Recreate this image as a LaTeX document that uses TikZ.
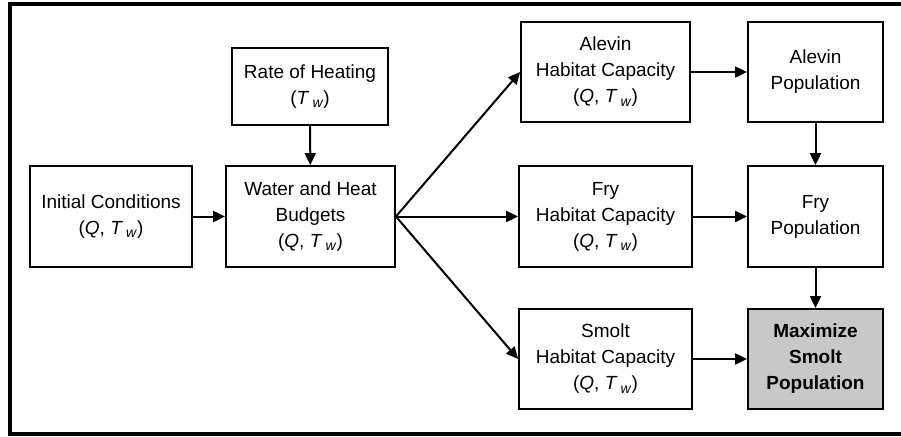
\documentclass[tikz,border=0pt]{standalone}
\usepackage{fontspec}
\setmainfont{Liberation Sans}
\usetikzlibrary{arrows.meta}
\newcommand{\Tw}{\textit{T}\,\raisebox{-0.35ex}{\scriptsize\textit{w}}}
\tikzset{
  box/.style={draw, line width=0.9pt, align=center, inner sep=2pt,
    font=\fontsize{9.5}{13}\selectfont},
  flow/.style={line width=1pt, -{Triangle[length=6pt,width=5.5pt]}}
}
\begin{document}
\begin{tikzpicture}[x=0.5pt,y=-0.5pt]
    \useasboundingbox (0,0) rectangle (901,436);
    \draw[line width=1.6pt] (901,4) -- (10,4) -- (10,434) -- (901,434);
    \node[box, minimum width=78pt, minimum height=38.5pt] (heat) at (310,86.5) {Rate of Heating\\(\Tw)};
    \node[box, minimum width=81pt, minimum height=50.5pt] (init) at (111,216.5) {Initial Conditions\\(\textit{Q}, \Tw)};
    \node[box, minimum width=84.5pt, minimum height=50.5pt] (budget) at (310.5,216.5) {Water and Heat\\Budgets\\(\textit{Q}, \Tw)};
    \node[box, minimum width=84.5pt, minimum height=50pt] (ahab) at (605.5,72) {Alevin\\Habitat Capacity\\(\textit{Q}, \Tw)};
    \node[box, minimum width=67.5pt, minimum height=50pt] (apop) at (815.5,72) {Alevin\\Population};
    \node[box, minimum width=86.5pt, minimum height=50.5pt] (fhab) at (605.5,216.5) {Fry\\Habitat Capacity\\(\textit{Q}, \Tw)};
    \node[box, minimum width=67.5pt, minimum height=50.5pt] (fpop) at (815.5,216.5) {Fry\\Population};
    \node[box, minimum width=86.5pt, minimum height=50pt] (shab) at (605.5,359) {Smolt\\Habitat Capacity\\(\textit{Q}, \Tw)};
    \node[box, fill={rgb,255:red,200;green,200;blue,200}, font=\fontsize{9.5}{13}\selectfont\bfseries,
      minimum width=67.5pt, minimum height=50pt] (smolt) at (815.5,359) {Maximize\\Smolt\\Population};
    \draw[flow] (init) -- (budget);
    \draw[flow] (heat) -- (budget);
    \draw[flow] (budget.east) -- (ahab.west);
    \draw[flow] (budget.east) -- (fhab.west);
    \draw[flow] (budget.east) -- (shab.west);
    \draw[flow] (ahab) -- (apop);
    \draw[flow] (fhab) -- (fpop);
    \draw[flow] (shab) -- (smolt);
    \draw[flow] (apop) -- (fpop);
    \draw[flow] (fpop) -- (smolt);
  \end{tikzpicture}
\end{document}
